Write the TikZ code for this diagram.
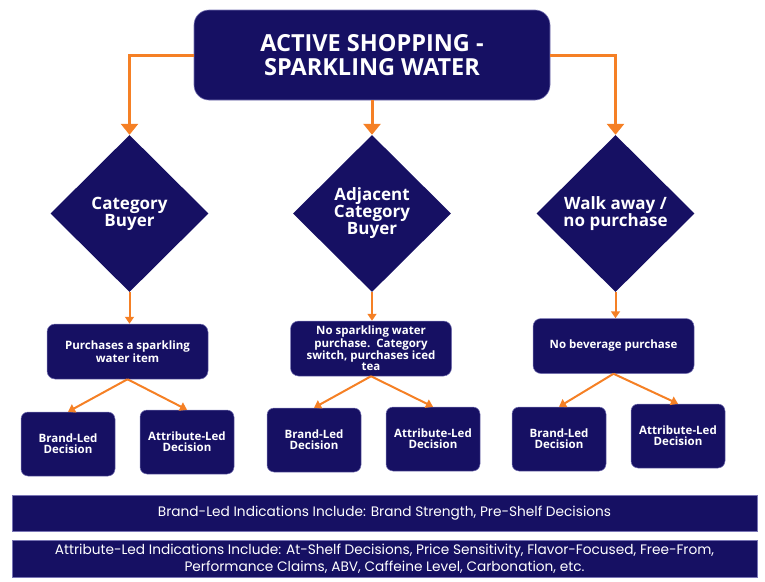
\documentclass[tikz,border=0pt]{standalone}
\usepackage{fontspec}
\setmainfont{Open Sans}
\newfontfamily\barfont{Poppins}
\usetikzlibrary{shapes.geometric,arrows.meta,calc}
\definecolor{navy}{RGB}{22,16,99}
\definecolor{edge}{RGB}{120,116,180}
\definecolor{flow}{RGB}{245,128,37}
\begin{document}
\begin{tikzpicture}[x=1pt,y=-1pt,
  topbox/.style={fill=navy, draw=edge, line width=0.6pt, rounded corners=15pt,
    minimum width=356pt, minimum height=90pt, inner sep=0pt, text=white,
    align=center, font=\fontsize{23.5}{24}\selectfont\bfseries},
  choice/.style={diamond, fill=navy, minimum width=158pt, minimum height=157pt,
    inner sep=0pt, text=white, align=center,
    font=\fontsize{17}{17}\selectfont\bfseries},
  outcome/.style={fill=navy, draw=edge, line width=0.5pt, rounded corners=8pt,
    minimum width=161pt, minimum height=55pt, inner sep=0pt, text=white,
    align=center, font=\fontsize{11.5}{11}\selectfont\bfseries},
  decision/.style={fill=navy, draw=edge, line width=0.5pt, rounded corners=7pt,
    minimum width=94pt, minimum height=64pt, inner sep=0pt, text=white,
    align=center, font=\fontsize{11.5}{11}\selectfont\bfseries},
  bar/.style={fill=navy, draw=edge, line width=0.6pt, minimum width=745pt,
    inner sep=0pt, text=white, align=center,
    font=\barfont\fontsize{13.7}{17.5}\selectfont},
  mainflow/.style={draw=flow, line width=3pt, -{Triangle[width=17pt,length=11pt]}},
  subflow/.style={draw=flow, line width=2pt, -{Triangle[width=9pt,length=7pt]}}
]
\useasboundingbox (0,0) rectangle (765,581);

% header
\node[topbox] (top) at (372,55) {ACTIVE SHOPPING -\\SPARKLING WATER};

% shopper paths
\node[choice] (d1) at (129.5,213.5) {Category\\Buyer};
\node[choice] (d2) at (372,213.5) {Adjacent\\Category\\Buyer};
\node[choice] (d3) at (615.5,213.5) {Walk away /\\no purchase};

% outcomes
\node[outcome] (o1) at (127.5,351.5) {Purchases a sparkling\\water item};
\node[outcome] (o2) at (371,348.5) {No sparkling water\\purchase.\ \ Category\\switch, purchases iced\\tea};
\node[outcome] (o3) at (613.5,346) {No beverage purchase};

% decision types
\node[decision] (b1) at (68,444) {Brand-Led\\Decision};
\node[decision] (a1) at (187,442) {Attribute-Led\\Decision};
\node[decision] (b2) at (314,440) {Brand-Led\\Decision};
\node[decision] (a2) at (433,439) {Attribute-Led\\Decision};
\node[decision] (b3) at (559,439) {Brand-Led\\Decision};
\node[decision] (a3) at (678,436) {Attribute-Led\\Decision};

% legend bars
\node[bar, minimum height=36pt] (l1) at (384.5,513)
  {Brand-Led Indications Include: Brand Strength, Pre-Shelf Decisions};
\node[bar, minimum height=37pt] (l2) at (384.5,558.5)
  {Attribute-Led Indications Include: At-Shelf Decisions, Price Sensitivity, Flavor-Focused, Free-From,\\
   Performance Claims, ABV, Caffeine Level, Carbonation, etc.};

% connectors
\draw[mainflow] (top.west) -| (d1.north);
\draw[mainflow] (top.south) -- (d2.north);
\draw[mainflow] (top.east) -| (d3.north);

\draw[subflow] (d1.south) -- (d1.south |- o1.north);
\draw[subflow] (d2.south) -- (d2.south |- o2.north);
\draw[subflow] (d3.south) -- (d3.south |- o3.north);

\draw[subflow] (o1.south) -- (b1.north);
\draw[subflow] (o1.south) -- (a1.north);
\draw[subflow] (o2.south) -- (b2.north);
\draw[subflow] (o2.south) -- (a2.north);
\draw[subflow] (o3.south) -- (b3.north);
\draw[subflow] (o3.south) -- (a3.north);
\end{tikzpicture}
\end{document}
